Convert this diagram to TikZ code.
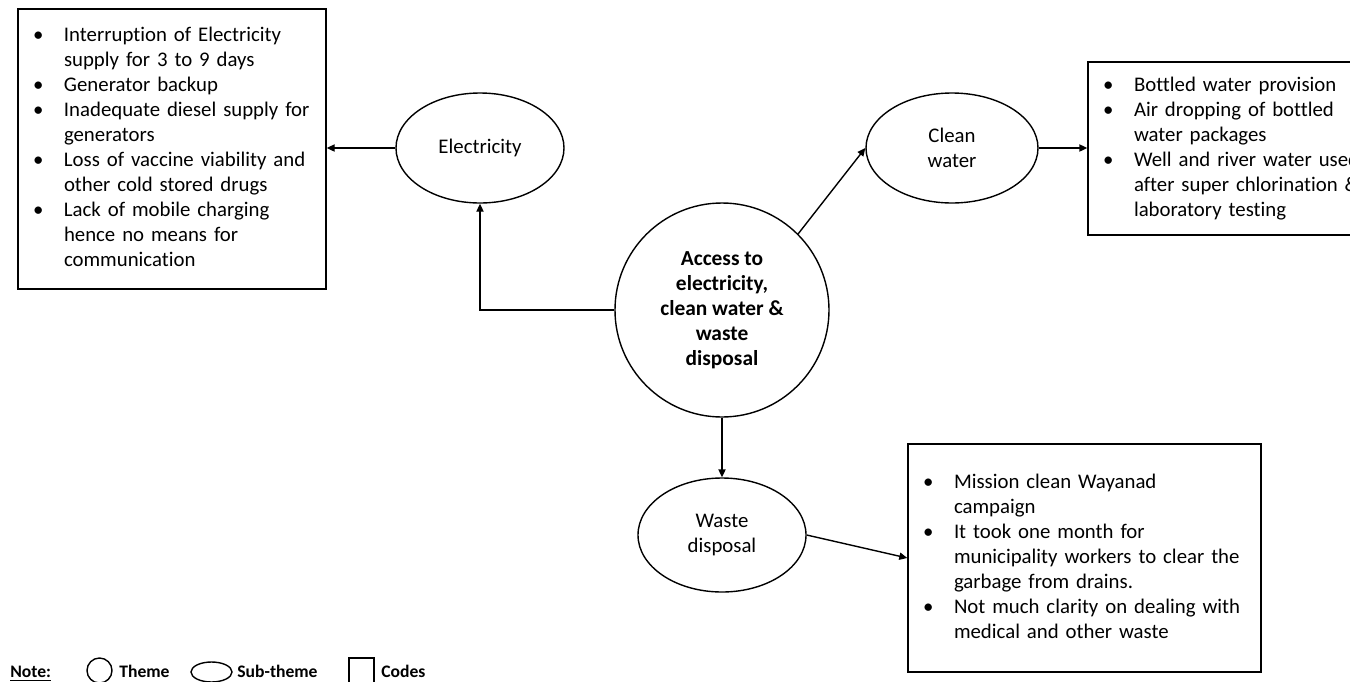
\documentclass[tikz,border=0pt]{standalone}
\usepackage{fontspec}
\setmainfont{Carlito}[Ligatures=NoCommon]
\usetikzlibrary{shapes.geometric,arrows.meta}

% bullet list laid out as a two-column table: bullet, then text
\newcommand\codelist[1]{\begin{tabular}{@{}p{15.5pt}@{}l@{}}#1\end{tabular}}

\begin{document}
\begin{tikzpicture}[x=0.5pt,y=-0.5pt,
  every node/.style={font=\fontsize{10.4}{12.5}\selectfont},
  conn/.style={draw=black, line width=0.7pt},
  arr/.style={conn, -{Triangle[length=4pt,width=3.6pt]}},
  sub/.style={ellipse, draw, line width=0.7pt, minimum width=84pt,
    minimum height=55pt, inner sep=0pt, align=center},
  codes/.style={draw, line width=0.7pt, inner xsep=7.5pt, inner ysep=0pt,
    align=left},
  theme/.style={circle, draw, line width=0.7pt, minimum size=107pt,
    inner sep=0pt, align=center,
    font=\fontsize{10.7}{12.5}\selectfont\bfseries},
  legend/.style={font=\fontsize{8.8}{10}\selectfont\bfseries,
    anchor=base west, inner sep=0pt},
  legshape/.style={draw, line width=0.7pt, inner sep=0pt}
]
\useasboundingbox (0,0) rectangle (1350,681);
\clip (0,0) rectangle (1350,681);

% central theme
\node[theme] (th) at (722,310)
  {Access to\\electricity,\\clean water \&\\waste\\disposal};

% sub-themes
\node[sub] (elec)  at (480,148) {Electricity};
\node[sub, minimum width=86pt] (clean) at (952,148) {Clean\\water};
\node[sub, minimum height=57pt] (waste) at (722,535) {Waste\\disposal};

% codes
\node[codes, text width=139pt, minimum height=140pt] (lbox) at (172,149)
  {\codelist{%
    \textbullet & Interruption of Electricity\\
                & supply for 3 to 9 days\\
    \textbullet & Generator backup\\
    \textbullet & Inadequate diesel supply for\\
                & generators\\
    \textbullet & Loss of vaccine viability and\\
                & other cold stored drugs\\
    \textbullet & Lack of mobile charging\\
                & hence no means for\\
                & communication}};

\node[codes, text width=130pt, minimum height=86.5pt] (rbox) at (1233,148.5)
  {\codelist{%
    \textbullet & Bottled water provision\\
    \textbullet & Air dropping of bottled\\
                & water packages\\
    \textbullet & Well and river water used\\
                & after super chlorination \&\\
                & laboratory testing}};

\node[codes, text width=161.5pt, minimum height=114pt] (wbox) at (1084.5,558)
  {\codelist{%
    \textbullet & Mission clean Wayanad\\
                & campaign\\
    \textbullet & It took one month for\\
                & municipality workers to clear the\\
                & garbage from drains.\\
    \textbullet & Not much clarity on dealing with\\
                & medical and other waste}};

% connectors
\draw[arr] (elec.west) -- (elec.west -| lbox.east);
\draw[arr] (th.west) -| (elec.south);
\draw[arr] (th.45) -- (clean.west);
\draw[arr] (clean.east) -- (clean.east -| rbox.west);
\draw[arr] (th.south) -- (waste.north);
\draw[arr] (waste.east) -- (wbox.west);

% legend
\node[legend] (note) at (10,677) {\underline{Note:}};
\node[legshape, circle, minimum size=12.5pt] (lth) at (99.5,670.5) {};
\node[legend] (lthtxt) at (119,677) {Theme};
\node[legshape, ellipse, minimum width=20.5pt, minimum height=10pt] (lsub) at (211.5,672) {};
\node[legend] (lsubtxt) at (237,677) {Sub-theme};
\node[legshape, minimum size=12.5pt] (lcode) at (361.5,670.5) {};
\node[legend] (lcodetxt) at (381,677) {Codes};
\end{tikzpicture}
\end{document}
